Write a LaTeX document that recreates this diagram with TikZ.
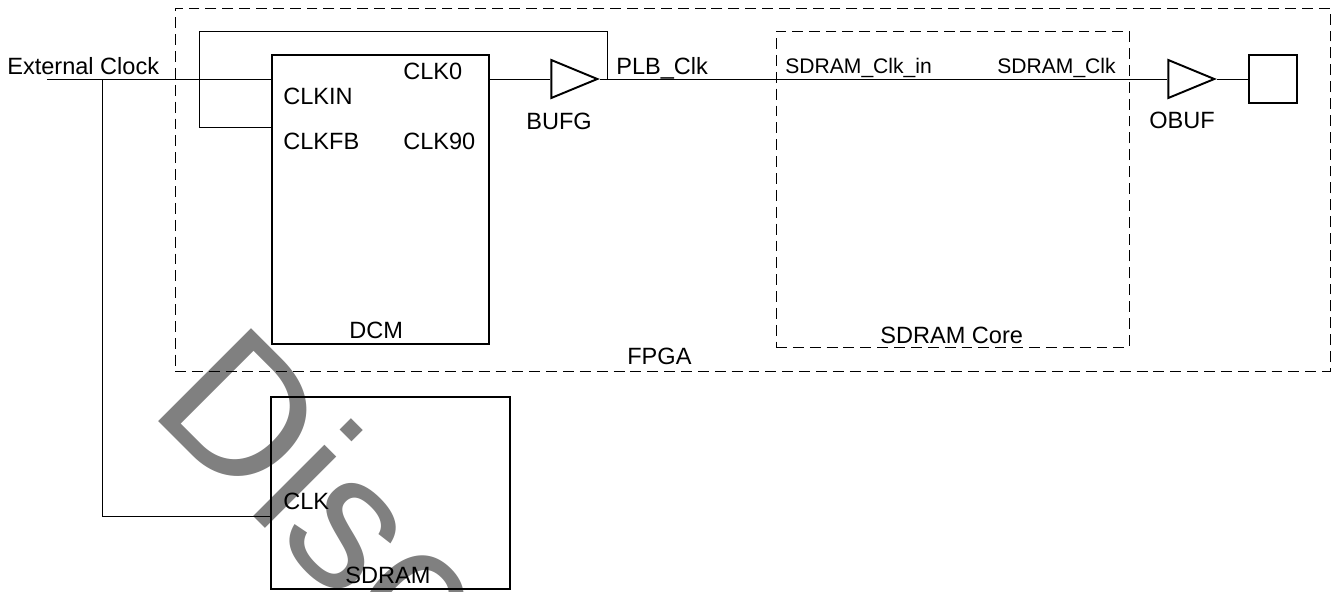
\documentclass[tikz,border=0pt]{standalone}
\usepackage{fontspec}
\setmainfont{Liberation Sans}
\usetikzlibrary{shapes.geometric}
\tikzset{
  wire/.style={line width=0.55pt},
  block/.style={draw,line width=1.1pt,inner sep=0pt},
  dashbox/.style={draw,line width=0.55pt,dash pattern=on 6.2pt off 3.4pt,inner sep=0pt},
  buffer/.style={draw,line width=1.1pt,isosceles triangle,isosceles triangle stretches,
    shape border rotate=0,minimum width=0.76cm,minimum height=0.92cm,inner sep=0pt},
  lbl/.style={anchor=base west,inner sep=0pt,font=\fontsize{13.4}{16}\selectfont},
  smalllbl/.style={lbl,font=\fontsize{12}{14}\selectfont},
}
\begin{document}
\begin{tikzpicture}[x=1cm,y=1cm]
  \useasboundingbox (0,0) rectangle (26.7,11.82);
  % watermark
  \begin{scope}
    \clip (0,0) rectangle (26.7,11.82);
    \node[anchor=base west,inner sep=0pt,rotate=-45,text=black!50,font=\fontsize{108.7}{120}\selectfont]
      (mark) at (2.94,3.62) {Disc};
  \end{scope}
  % boxes
  \node[dashbox,minimum width=23.1cm,minimum height=7.26cm] (fpga) at (15.05,8.03) {};
  \node[dashbox,minimum width=7.06cm,minimum height=6.32cm] (core) at (19.05,8.04) {};
  \node[block,minimum width=4.34cm,minimum height=5.78cm] (dcm) at (7.61,7.83) {};
  \node[block,minimum width=4.78cm,minimum height=3.84cm] (sdram) at (7.81,1.96) {};
  \node[block,minimum width=0.96cm,minimum height=0.96cm] (pad) at (25.46,10.24) {};
  \node[buffer] (bufg) at (11.28,10.24) {};
  \node[buffer] (obuf) at (23.62,10.24) {};
  % free ends and corners
  \coordinate (clkstart) at (0.94,10.24);
  \coordinate (tap) at (2.04,10.24);
  \coordinate (fbin) at (5.44,9.28);
  \coordinate (fbleft) at (3.98,9.28);
  \coordinate (fbtop) at (3.98,11.20);
  \coordinate (fbright) at (12.14,11.20);
  \coordinate (fbtap) at (12.14,10.24);
  % wires
  \draw[wire] (clkstart) -- (dcm.west |- clkstart);
  \draw[wire] (tap) |- (sdram.west |- 0,1.50);
  \draw[wire] (fbin) -- (fbleft) -- (fbtop) -- (fbright) -- (fbtap);
  \draw[wire] (dcm.east |- bufg) -- (bufg.west);
  \draw[wire] (bufg.east) -- (obuf.west);
  \draw[wire] (obuf.east) -- (pad.west);
  % labels
  \node[lbl] (extlbl) at (0.14,10.34) {External Clock};
  \node[lbl] (clkinlbl) at (5.66,9.74) {CLKIN};
  \node[lbl] (clkfblbl) at (5.66,8.84) {CLKFB};
  \node[lbl] (clk0lbl) at (8.06,10.24) {CLK0};
  \node[lbl] (clk90lbl) at (8.06,8.84) {CLK90};
  \node[lbl] (dcmlbl) at (6.98,5.06) {DCM};
  \node[lbl] (bufglbl) at (10.52,9.24) {BUFG};
  \node[lbl] (plblbl) at (12.32,10.34) {PLB\_Clk};
  \node[smalllbl] (inlbl) at (15.70,10.36) {SDRAM\_Clk\_in};
  \node[smalllbl] (outlbl) at (19.94,10.36) {SDRAM\_Clk};
  \node[lbl] (obuflbl) at (22.98,9.26) {OBUF};
  \node[lbl] (fpgalbl) at (12.54,4.54) {FPGA};
  \node[lbl] (corelbl) at (17.60,4.96) {SDRAM Core};
  \node[lbl] (clklbl) at (5.66,1.64) {CLK};
  \node[lbl] (sdramlbl) at (6.90,0.16) {SDRAM};
\end{tikzpicture}
\end{document}
